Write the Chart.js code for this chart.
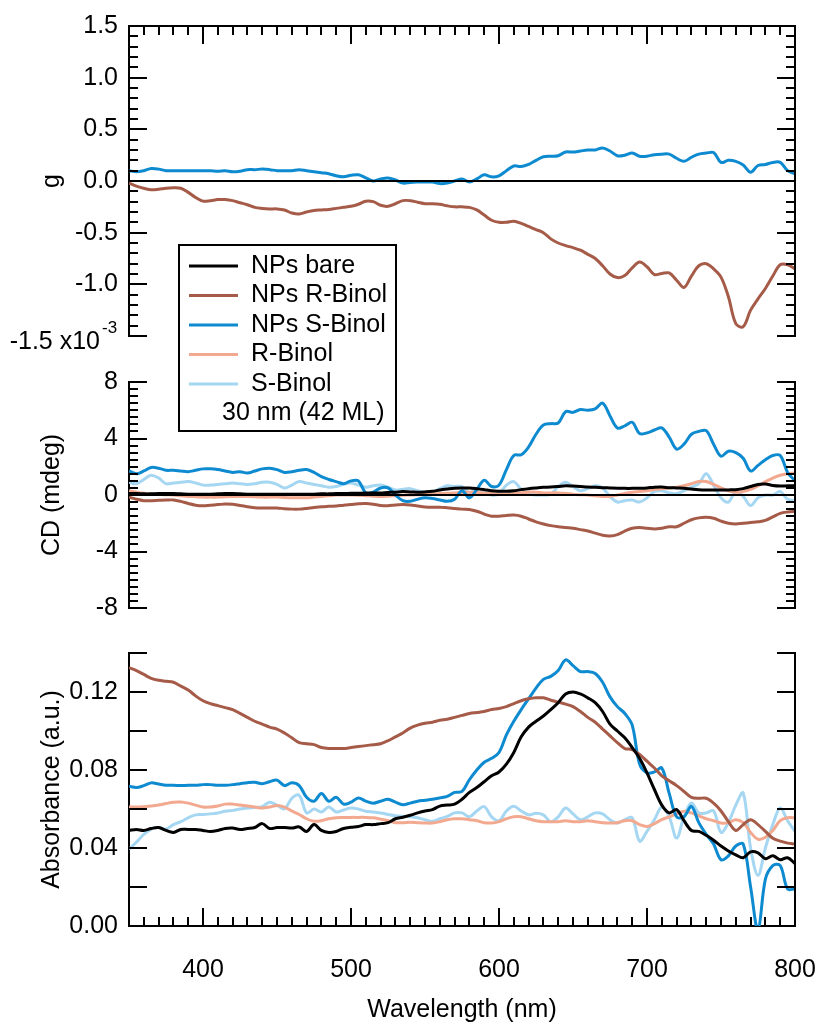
<!DOCTYPE html>
<html>
<head>
<meta charset="utf-8">
<script src="https://cdn.jsdelivr.net/npm/chart.js@4.4.1/dist/chart.umd.min.js"></script>
<style>
  html, body { margin: 0; padding: 0; background: #fff; }
  #wrap { position: relative; width: 820px; height: 1028px; }
  #wrap canvas { position: absolute; left: 0; top: 0; }
</style>
</head>
<body>
<div id="wrap">
  <canvas id="gChart" width="820" height="1028"></canvas>
  <canvas id="absChart" width="820" height="1028"></canvas>
  <canvas id="cdChart" width="820" height="1028"></canvas>
</div>
<script>
// Wavelength grid (nm) shared by every spectrum
const wavelength = [
  350,355,360,365,370,375,380,385,390,395,
  400,405,410,415,420,425,430,435,440,445,
  450,455,460,465,470,475,480,485,490,495,
  500,505,510,515,520,525,530,535,540,545,
  550,555,560,565,570,575,580,585,590,595,
  600,605,610,615,620,625,630,635,640,645,
  650,655,660,665,670,675,680,685,690,695,
  700,705,710,715,720,725,730,735,740,745,
  750,755,760,765,770,775,780,785,790,795,
  800
];

const seriesNames = ['NPs bare', 'NPs R-Binol', 'NPs S-Binol', 'R-Binol', 'S-Binol'];
const seriesColors = ['#000000', '#A55B48', '#0D8AD0', '#F2A98F', '#A5D6F2'];
const sampleNote = '30 nm (42 ML)';

// Dissymmetry factor g (x10^-3)
const gNPsRBinol = [
  -0.02,-0.05,-0.07,-0.085,-0.08,-0.07,-0.065,-0.07,-0.11,-0.16,
  -0.195,-0.19,-0.18,-0.18,-0.19,-0.21,-0.23,-0.255,-0.265,-0.27,
  -0.27,-0.28,-0.31,-0.32,-0.30,-0.285,-0.28,-0.275,-0.265,-0.255,
  -0.245,-0.225,-0.195,-0.20,-0.235,-0.245,-0.22,-0.19,-0.19,-0.205,
  -0.22,-0.22,-0.225,-0.24,-0.25,-0.25,-0.255,-0.28,-0.33,-0.38,
  -0.40,-0.40,-0.39,-0.41,-0.44,-0.47,-0.50,-0.56,-0.60,-0.625,
  -0.645,-0.67,-0.71,-0.75,-0.82,-0.90,-0.935,-0.915,-0.84,-0.785,
  -0.83,-0.905,-0.895,-0.89,-0.96,-1.03,-0.92,-0.82,-0.80,-0.85,
  -0.93,-1.12,-1.38,-1.41,-1.25,-1.14,-1.04,-0.92,-0.81,-0.81,
  -0.85
];
const gNPsSBinol = [
  0.10,0.09,0.10,0.12,0.115,0.10,0.10,0.10,0.10,0.10,
  0.10,0.10,0.095,0.10,0.09,0.095,0.11,0.11,0.115,0.11,
  0.10,0.10,0.10,0.11,0.10,0.09,0.08,0.07,0.05,0.04,
  0.055,0.06,0.03,0.0,0.02,0.03,0.01,-0.02,-0.015,-0.01,
  -0.01,-0.01,-0.025,-0.02,0.0,0.02,-0.01,0.02,0.06,0.04,
  0.05,0.10,0.145,0.14,0.16,0.20,0.235,0.24,0.245,0.28,
  0.28,0.29,0.30,0.30,0.32,0.29,0.245,0.25,0.27,0.24,
  0.24,0.255,0.26,0.26,0.22,0.19,0.23,0.26,0.27,0.275,
  0.18,0.20,0.19,0.155,0.085,0.15,0.16,0.18,0.18,0.10,
  0.07
];

// Circular dichroism (mdeg)
const cdNPsBare = [
  0.1,0.1,0.08,0.08,0.1,0.1,0.1,0.08,0.06,0.05,
  0.05,0.06,0.08,0.1,0.1,0.08,0.06,0.05,0.05,0.05,
  0.05,0.05,0.06,0.05,0.05,0.06,0.08,0.08,0.1,0.1,
  0.12,0.12,0.14,0.15,0.15,0.18,0.2,0.24,0.22,0.2,
  0.22,0.26,0.35,0.42,0.48,0.5,0.5,0.45,0.38,0.3,
  0.27,0.26,0.3,0.38,0.45,0.5,0.54,0.56,0.6,0.65,
  0.63,0.6,0.56,0.55,0.52,0.5,0.48,0.47,0.47,0.48,
  0.5,0.55,0.56,0.52,0.5,0.48,0.42,0.37,0.35,0.35,
  0.35,0.36,0.38,0.45,0.6,0.75,0.78,0.68,0.64,0.65,
  0.66
];
const cdNPsRBinol = [
  -0.15,-0.3,-0.4,-0.4,-0.38,-0.36,-0.35,-0.45,-0.6,-0.72,
  -0.76,-0.72,-0.68,-0.64,-0.66,-0.75,-0.83,-0.9,-0.92,-0.92,
  -0.92,-0.97,-1.0,-1.0,-0.95,-0.88,-0.84,-0.8,-0.78,-0.72,
  -0.67,-0.62,-0.6,-0.65,-0.74,-0.76,-0.7,-0.68,-0.7,-0.78,
  -0.85,-0.87,-0.86,-0.9,-0.95,-1.0,-1.02,-1.15,-1.35,-1.5,
  -1.5,-1.45,-1.42,-1.5,-1.7,-1.9,-2.05,-2.17,-2.25,-2.3,
  -2.35,-2.45,-2.55,-2.7,-2.85,-2.9,-2.8,-2.55,-2.35,-2.3,
  -2.35,-2.4,-2.35,-2.25,-2.25,-2.0,-1.75,-1.62,-1.58,-1.65,
  -1.85,-2.0,-2.05,-2.0,-1.95,-1.9,-1.8,-1.55,-1.3,-1.2,
  -1.15
];
const cdNPsSBinol = [
  1.7,1.5,1.7,1.95,1.9,1.75,1.75,1.7,1.65,1.75,
  1.85,1.85,1.8,1.7,1.6,1.65,1.55,1.7,1.85,1.9,
  1.8,1.6,1.65,1.75,1.8,1.6,1.3,1.1,0.95,0.8,
  1.0,1.0,0.15,0.2,0.5,0.5,0.0,-0.4,-0.45,-0.3,
  -0.2,-0.25,-0.35,-0.45,-0.3,0.3,-0.2,0.4,1.05,0.6,
  0.7,1.8,2.8,2.85,3.4,4.3,4.95,5.05,5.1,5.9,
  5.85,6.05,6.0,6.1,6.5,5.6,4.75,4.9,5.15,4.35,
  4.4,4.6,4.75,4.1,3.25,3.6,4.3,4.5,4.55,3.6,
  2.75,3.1,3.0,2.6,1.7,2.1,2.5,2.8,2.8,1.6,
  1.0
];
const cdRBinol = [
  0.3,0.2,0.12,0.08,0.05,0.02,0.0,-0.05,-0.1,-0.12,
  -0.15,-0.15,-0.15,-0.12,-0.1,-0.1,-0.1,-0.12,-0.15,-0.15,
  -0.15,-0.18,-0.2,-0.2,-0.2,-0.15,-0.1,-0.05,0.0,0.0,
  0.0,-0.02,-0.05,-0.08,-0.1,-0.08,-0.05,-0.02,0.0,0.02,
  0.05,0.08,0.1,0.12,0.15,0.18,0.2,0.18,0.15,0.1,
  0.05,0.06,0.1,0.15,0.2,0.2,0.15,0.15,0.15,0.12,
  0.05,0.02,0.0,-0.05,-0.1,-0.1,0.0,0.1,0.2,0.25,
  0.3,0.38,0.45,0.5,0.55,0.65,0.8,0.95,0.95,0.75,
  0.5,0.3,0.2,0.25,0.4,0.65,0.95,1.2,1.4,1.5,
  1.55
];
const cdSBinol = [
  0.9,0.8,1.1,1.4,1.2,0.8,0.85,0.9,0.95,0.85,
  0.7,0.7,0.75,0.8,0.85,0.8,0.75,0.8,0.9,0.9,
  0.75,0.5,0.7,0.95,0.85,0.75,0.65,0.55,0.6,0.75,
  0.85,0.7,0.55,0.65,0.7,0.55,0.35,0.4,0.45,0.3,
  0.2,0.2,0.45,0.65,0.6,0.6,0.15,0.45,0.3,0.0,
  0.1,0.7,0.95,0.4,0.1,0.0,0.0,0.05,0.6,0.9,
  0.6,0.3,0.45,0.65,0.5,-0.1,-0.5,-0.4,-0.35,-0.5,
  -0.2,0.25,0.3,0.15,0.1,0.3,0.55,0.8,1.5,0.7,
  -0.2,-0.5,0.25,-0.1,-0.75,-0.2,0.0,0.0,0.25,-0.3,
  -0.4
];

// Absorbance (a.u.)
const absNPsBare = [
  0.049,0.0495,0.049,0.05,0.0505,0.049,0.048,0.0495,0.0495,0.0495,
  0.049,0.0485,0.049,0.050,0.0502,0.0495,0.050,0.0505,0.0525,0.050,
  0.0505,0.0505,0.0502,0.0508,0.0485,0.052,0.049,0.048,0.0485,0.050,
  0.0506,0.051,0.052,0.052,0.0525,0.053,0.055,0.0558,0.0568,0.058,
  0.059,0.0597,0.0615,0.062,0.0625,0.065,0.0685,0.071,0.074,0.077,
  0.079,0.083,0.089,0.097,0.102,0.105,0.1077,0.111,0.1145,0.119,
  0.120,0.119,0.117,0.1145,0.110,0.1035,0.100,0.0965,0.0915,0.086,
  0.0785,0.070,0.062,0.058,0.0597,0.054,0.049,0.0485,0.0465,0.044,
  0.041,0.0385,0.0365,0.035,0.038,0.0375,0.0345,0.036,0.034,0.035,
  0.032
];
const absNPsRBinol = [
  0.1325,0.131,0.129,0.127,0.126,0.1255,0.125,0.123,0.121,0.118,
  0.1155,0.114,0.113,0.112,0.111,0.109,0.107,0.105,0.1035,0.102,
  0.101,0.099,0.0965,0.094,0.0935,0.093,0.0915,0.091,0.091,0.091,
  0.0915,0.092,0.0925,0.093,0.0935,0.095,0.097,0.099,0.1015,0.103,
  0.104,0.1045,0.1055,0.106,0.107,0.108,0.109,0.1095,0.110,0.111,
  0.1115,0.1125,0.114,0.1155,0.1165,0.117,0.117,0.1158,0.1148,0.1138,
  0.1125,0.110,0.107,0.1045,0.101,0.0975,0.094,0.091,0.0905,0.088,
  0.0845,0.081,0.077,0.0745,0.072,0.069,0.066,0.0655,0.0655,0.063,
  0.059,0.0535,0.049,0.052,0.0545,0.052,0.0485,0.045,0.0435,0.0425,
  0.042
];
const absNPsSBinol = [
  0.0717,0.071,0.072,0.0734,0.0728,0.0722,0.0722,0.072,0.0722,0.0722,
  0.0725,0.0725,0.0722,0.0722,0.0725,0.073,0.0735,0.0737,0.073,0.074,
  0.0748,0.072,0.0734,0.072,0.066,0.064,0.068,0.064,0.066,0.0625,
  0.0635,0.0657,0.064,0.063,0.064,0.065,0.0635,0.0622,0.063,0.064,
  0.0645,0.065,0.0657,0.0665,0.0685,0.069,0.075,0.080,0.084,0.086,
  0.089,0.098,0.105,0.111,0.1165,0.122,0.1265,0.128,0.131,0.1365,
  0.1335,0.1305,0.1305,0.1295,0.125,0.1175,0.1125,0.109,0.103,0.083,
  0.0785,0.079,0.081,0.068,0.056,0.056,0.0614,0.053,0.047,0.042,
  0.034,0.036,0.041,0.042,0.020,-0.002,0.024,0.031,0.031,0.019,
  0.019
];
const absRBinol = [
  0.061,0.061,0.0612,0.0615,0.062,0.0628,0.0635,0.0636,0.063,0.062,
  0.061,0.061,0.0615,0.0625,0.0625,0.062,0.0615,0.061,0.0605,0.061,
  0.0618,0.061,0.059,0.0572,0.055,0.0537,0.054,0.055,0.0555,0.0556,
  0.0557,0.0557,0.0557,0.0555,0.0548,0.054,0.053,0.053,0.0532,0.053,
  0.0528,0.0528,0.0535,0.0545,0.055,0.055,0.0545,0.054,0.053,0.0528,
  0.0535,0.055,0.056,0.056,0.055,0.054,0.0535,0.0535,0.0535,0.054,
  0.0535,0.0535,0.054,0.0535,0.053,0.0528,0.053,0.054,0.054,0.052,
  0.051,0.0525,0.0545,0.056,0.0575,0.0588,0.058,0.0565,0.055,0.054,
  0.0528,0.053,0.0545,0.053,0.048,0.0445,0.0455,0.049,0.054,0.0555,
  0.0555
];
const absSBinol = [
  0.0394,0.043,0.047,0.0497,0.0505,0.0497,0.052,0.0535,0.0555,0.057,
  0.0572,0.0575,0.058,0.0588,0.0593,0.060,0.0605,0.0608,0.0612,0.0635,
  0.062,0.060,0.0655,0.067,0.058,0.060,0.0585,0.061,0.0585,0.0595,
  0.0605,0.060,0.0588,0.0585,0.058,0.0572,0.0565,0.0562,0.056,0.0555,
  0.0545,0.0537,0.055,0.0562,0.058,0.058,0.056,0.059,0.0612,0.056,
  0.054,0.059,0.0614,0.059,0.057,0.0578,0.057,0.0535,0.056,0.0605,
  0.0575,0.0545,0.056,0.058,0.0575,0.0545,0.0528,0.0545,0.0555,0.0435,
  0.0485,0.0545,0.061,0.056,0.0451,0.056,0.0631,0.058,0.058,0.059,
  0.048,0.053,0.062,0.0682,0.040,0.026,0.040,0.052,0.0605,0.054,
  0.0485
];

// Axis ranges and tick labels
const wavelengthRange = [350, 800];
const wavelengthTicks = [400, 500, 600, 700, 800];
const gRange = [-1.5, 1.5];
const gTicks = [1.5, 1.0, 0.5, 0.0, -0.5, -1.0];
const cdRange = [-8, 8];
const cdTicks = [8, 4, 0, -4, -8];
const absRange = [0, 0.14];
const absTicks = [0.00, 0.04, 0.08, 0.12];

const FONT_FAMILY = "'Liberation Sans', Arial, Helvetica, sans-serif";
const FONT_SIZE = 25;
Chart.defaults.font.family = FONT_FAMILY;
Chart.defaults.font.size = FONT_SIZE;
Chart.defaults.color = '#000';

// Layout of the plot frames on the page
const PLOT_LEFT = 129, PLOT_RIGHT = 795, AXIS_W = 92, PAGE_H = 1028, ABS_BOTTOM = 926;

function steps(from, to, step) {
  const out = [];
  for (let k = 0; from + k * step <= to + 1e-9; k++) out.push(+(from + k * step).toFixed(6));
  return out;
}
function isMultiple(v, m) { return Math.abs(v / m - Math.round(v / m)) < 1e-6; }

function points(values) {
  return wavelength.map((w, i) => ({ x: w, y: values[i] }));
}
function lineSet(idx, values) {
  return {
    label: seriesNames[idx],
    data: points(values),
    borderColor: seriesColors[idx],
    backgroundColor: seriesColors[idx],
    borderWidth: 3,
    pointRadius: 0,
    tension: 0.35,
    fill: false
  };
}

// Frame, zero line and inward tick marks drawn through the chart scales
const framePlugin = {
  id: 'frame',
  afterDatasetsDraw(chart, args, o) {
    const { ctx, chartArea: { left, right, top, bottom }, scales: { x, y } } = chart;
    ctx.save();
    ctx.strokeStyle = '#000';
    ctx.lineWidth = 2;
    ctx.lineCap = 'butt';
    const seg = (x1, y1, x2, y2) => { ctx.beginPath(); ctx.moveTo(x1, y1); ctx.lineTo(x2, y2); ctx.stroke(); };
    seg(right, top - 1, right, bottom + 1);
    if (o.topLine) seg(left - 1, top, right + 1, top);
    if (o.zeroLine) { const py = Math.round(y.getPixelForValue(0)); seg(left, py, right, py); }
    (o.yMajor || []).forEach(v => { const py = Math.round(y.getPixelForValue(v)); seg(left, py, left + 18, py); seg(right, py, right - 18, py); });
    (o.yMinor || []).forEach(v => { const py = Math.round(y.getPixelForValue(v)); seg(left, py, left + 9, py); seg(right, py, right - 9, py); });
    if (o.xSide) {
      const base = o.xSide === 'top' ? top : bottom;
      const dir = o.xSide === 'top' ? 1 : -1;
      (o.xMajor || []).forEach(v => { const px = Math.round(x.getPixelForValue(v)); seg(px, base, px, base + dir * 18); });
      (o.xMinor || []).forEach(v => { const px = Math.round(x.getPixelForValue(v)); seg(px, base, px, base + dir * 9); });
    }
    ctx.restore();
  }
};

// Boxed legend listing every series plus the sample note
const boxLegendPlugin = {
  id: 'boxLegend',
  afterDraw(chart, args, o) {
    if (!o || !o.display) return;
    const ctx = chart.ctx;
    ctx.save();
    ctx.fillStyle = '#fff';
    ctx.fillRect(o.x, o.y, o.w, o.h);
    ctx.lineWidth = 2;
    ctx.strokeStyle = '#000';
    ctx.strokeRect(o.x, o.y, o.w, o.h);
    ctx.font = `${FONT_SIZE}px ${FONT_FAMILY}`;
    ctx.textBaseline = 'middle';
    ctx.textAlign = 'left';
    chart.data.datasets.forEach((ds, i) => {
      const cy = o.y + o.firstRow + i * o.rowGap;
      ctx.strokeStyle = ds.borderColor;
      ctx.lineWidth = 3;
      ctx.beginPath();
      ctx.moveTo(o.x + 10, cy);
      ctx.lineTo(o.x + 59, cy);
      ctx.stroke();
      ctx.fillStyle = '#000';
      ctx.fillText(ds.label, o.x + 72, cy);
    });
    const ny = o.y + o.firstRow + chart.data.datasets.length * o.rowGap;
    ctx.fillStyle = '#000';
    ctx.fillText(o.note, o.x + 43, ny);
    ctx.restore();
  }
};

// Bottom g label carrying the x10^-3 multiplier
const gScaleLabelPlugin = {
  id: 'gScaleLabel',
  afterDraw(chart) {
    const { ctx, scales: { y } } = chart;
    const py = y.getPixelForValue(gRange[0]);
    ctx.save();
    ctx.fillStyle = '#000';
    ctx.textBaseline = 'middle';
    ctx.font = `${FONT_SIZE}px ${FONT_FAMILY}`;
    ctx.textAlign = 'right';
    ctx.fillText(gRange[0].toFixed(1) + ' x10', 100, py + 6);
    ctx.font = `17px ${FONT_FAMILY}`;
    ctx.textAlign = 'left';
    ctx.fillText('-3', 102, py - 8);
    ctx.restore();
  }
};

function yAxis(range, ticks, fmt, title) {
  return {
    type: 'linear',
    position: 'left',
    min: range[0],
    max: range[1],
    afterFit: s => { s.width = AXIS_W; },
    afterBuildTicks: s => { s.ticks = ticks.map(v => ({ value: v })); },
    ticks: { callback: v => fmt(v), padding: 11, color: '#000', font: { size: FONT_SIZE } },
    grid: { display: false, drawTicks: false },
    border: { display: true, color: '#000', width: 2 },
    title: { display: true, text: title, color: '#000', padding: { top: 0, bottom: 0 }, font: { size: FONT_SIZE } }
  };
}
function hiddenX() {
  return { type: 'linear', min: wavelengthRange[0], max: wavelengthRange[1], display: false };
}
function baseOptions(padTop, padBottom) {
  return {
    responsive: false,
    animation: false,
    devicePixelRatio: 1,
    layout: { padding: { left: PLOT_LEFT - AXIS_W, right: 820 - PLOT_RIGHT, top: padTop, bottom: padBottom } },
    plugins: { legend: { display: false }, tooltip: { enabled: false } }
  };
}

const xMajorTicks = wavelengthTicks.filter(v => v < wavelengthRange[1]);
const xMinorTicks = steps(360, 790, 10).filter(v => !isMultiple(v, 100));

// Panel 1: dissymmetry factor
const gOpts = baseOptions(18, PAGE_H - 336);
gOpts.scales = { x: hiddenX(), y: yAxis(gRange, gTicks, v => v.toFixed(1), 'g') };
gOpts.plugins.frame = {
  topLine: true, zeroLine: true,
  yMajor: steps(-1.5, 1.5, 0.5),
  yMinor: steps(-1.4, 1.4, 0.1).filter(v => !isMultiple(v, 0.5)),
  xSide: 'top', xMajor: xMajorTicks, xMinor: xMinorTicks
};
new Chart(document.getElementById('gChart'), {
  type: 'line',
  data: { datasets: [lineSet(1, gNPsRBinol), lineSet(2, gNPsSBinol)] },
  options: gOpts,
  plugins: [framePlugin, gScaleLabelPlugin]
});

// Panel 2: circular dichroism
const cdOpts = baseOptions(382, PAGE_H - 608);
cdOpts.scales = { x: hiddenX(), y: yAxis(cdRange, cdTicks, v => String(v), 'CD (mdeg)') };
cdOpts.plugins.frame = {
  zeroLine: true,
  yMajor: steps(-8, 8, 4),
  yMinor: steps(-7.5, 7.5, 0.5).filter(v => !isMultiple(v, 4))
};
cdOpts.plugins.boxLegend = { display: true, x: 179, y: 245, w: 217, h: 186, firstRow: 21, rowGap: 29.5, note: sampleNote };
new Chart(document.getElementById('cdChart'), {
  type: 'line',
  data: {
    datasets: [
      lineSet(0, cdNPsBare), lineSet(1, cdNPsRBinol), lineSet(2, cdNPsSBinol),
      lineSet(3, cdRBinol), lineSet(4, cdSBinol)
    ]
  },
  options: cdOpts,
  plugins: [framePlugin, boxLegendPlugin]
});

// Panel 3: absorbance, with the shared wavelength axis
const absOpts = baseOptions(653, 0);
absOpts.scales = {
  x: {
    type: 'linear',
    position: 'bottom',
    min: wavelengthRange[0],
    max: wavelengthRange[1],
    afterFit: s => { s.height = PAGE_H - ABS_BOTTOM; },
    afterBuildTicks: s => { s.ticks = wavelengthTicks.map(v => ({ value: v })); },
    ticks: { callback: v => String(v), padding: 2, color: '#000', maxRotation: 0, autoSkip: false, font: { size: FONT_SIZE } },
    // tick marks are drawn by the frame plugin; the hidden length only spaces the labels
    grid: { display: false, drawTicks: true, tickLength: 27, tickColor: 'rgba(0,0,0,0)' },
    border: { display: true, color: '#000', width: 2 },
    title: { display: true, text: 'Wavelength (nm)', color: '#000', padding: { top: 0, bottom: 3 }, font: { size: FONT_SIZE } }
  },
  y: yAxis(absRange, absTicks, v => v.toFixed(2), 'Absorbance (a.u.)')
};
absOpts.plugins.frame = {
  yMajor: steps(0, 0.14, 0.02),
  xSide: 'bottom', xMajor: xMajorTicks, xMinor: xMinorTicks
};
new Chart(document.getElementById('absChart'), {
  type: 'line',
  data: {
    datasets: [
      lineSet(0, absNPsBare), lineSet(1, absNPsRBinol), lineSet(2, absNPsSBinol),
      lineSet(3, absRBinol), lineSet(4, absSBinol)
    ]
  },
  options: absOpts,
  plugins: [framePlugin]
});
</script>
</body>
</html>
